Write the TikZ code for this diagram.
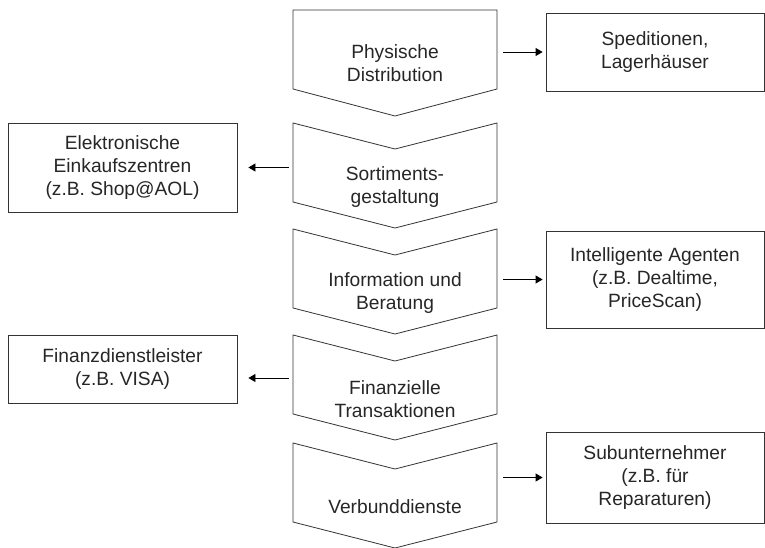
\documentclass[tikz,border=0pt]{standalone}
\usepackage{fontspec}
\setmainfont{Liberation Sans}
\usetikzlibrary{arrows.meta,positioning,calc}
\tikzset{
  stufe/.style = {align=center, minimum width=204pt, inner sep=0pt,
                  font=\fontsize{19.2}{23}\selectfont, text=black!85},
  chev/.style  = {draw=black!80, line width=0.8pt, line join=miter},
  box/.style   = {rectangle, draw=black!80, line width=0.8pt, inner sep=2pt,
                  align=center, font=\fontsize{19.2}{23}\selectfont, text=black!85},
  rbox/.style  = {box, minimum width=218pt},
  lbox/.style  = {box, minimum width=229pt},
  ar/.style    = {-{Triangle[length=7pt,width=8pt]}, draw=black, line width=0.8pt},
  rar/.style   = {ar, shorten <=6pt, shorten >=3pt},
  lar/.style   = {ar, shorten <=4pt, shorten >=11pt}
}
\begin{document}
\begin{tikzpicture}[x=1pt,y=1pt]
    \useasboundingbox (0,0) rectangle (765,-547);
    % value chain chevrons
    \draw[chev] (293,-10) -- (497,-10) -- (497,-89) -- (395,-116) -- (293,-89) -- cycle;
    \foreach \t in {123,229,335,443}
      \draw[chev] (293,-\t) -- (395,-\t-26) -- (497,-\t) -- (497,-\t-79)
                  -- (395,-\t-105) -- (293,-\t-79) -- cycle;
    \node[stufe] (p1) at (395,-63)  {Physische\\Distribution};
    \node[stufe] (p2) at (395,-187) {Sortiments-\\gestaltung};
    \node[stufe] (p3) at (395,-293) {Information und\\Beratung};
    \node[stufe] (p4) at (395,-399) {Finanzielle\\Transaktionen};
    \node[stufe] (p5) at (395,-507) {Verbunddienste};
    % partners
    \node[rbox, minimum height=78pt] (s1) at (655,-52)    {Speditionen,\\Lagerhäuser};
    \node[lbox, minimum height=89pt] (e2) at (122.5,-167.5) {Elektronische\\Einkaufszentren\\(z.B. Shop@AOL)};
    \node[rbox, minimum height=97pt] (a3) at (655,-279.5) {Intelligente Agenten\\(z.B. Dealtime,\\PriceScan)};
    \node[lbox, minimum height=68pt] (f4) at (122.5,-369)  {Finanzdienstleister\\(z.B. VISA)};
    \node[rbox, minimum height=91pt] (u5) at (655,-477.5) {Subunternehmer\\(z.B. für\\Reparaturen)};
    \coordinate (f4in) at ([yshift=-9pt]f4.east);
    \draw[rar] (p1.east |- s1.west) -- (s1.west);
    \draw[lar] (p2.west |- e2.east) -- (e2.east);
    \draw[rar] (p3.east |- a3.west) -- (a3.west);
    \draw[lar] (p4.west |- f4in) -- (f4in);
    \draw[rar] (p5.east |- u5.west) -- (u5.west);
  \end{tikzpicture}
\end{document}
